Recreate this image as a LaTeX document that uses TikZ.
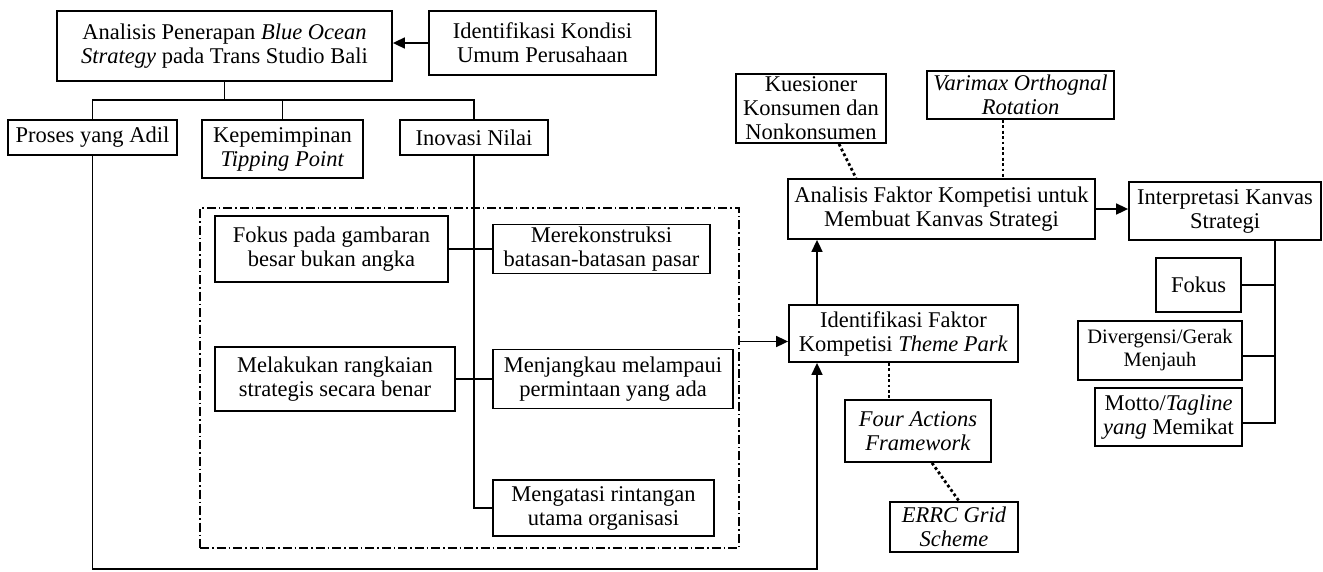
\documentclass[tikz,border=0pt]{standalone}
\usepackage{fontspec}
\setmainfont{Liberation Serif}
\usetikzlibrary{arrows.meta}
\newcommand\myfs{\fontsize{22.5}{24}\selectfont}
\newcommand\mysmfs{\fontsize{20.5}{23}\selectfont}
\begin{document}
\begin{tikzpicture}[x=1pt,y=-1pt,
 box/.style={draw, line width=1.8pt, align=center, inner sep=1pt, font=\myfs},
 conn/.style={line width=1.7pt},
 arr/.style={line width=1.7pt, -{Triangle[length=12pt,width=11pt]}},
 dots/.style={line width=2.8pt, dash pattern=on 2.8pt off 2.6pt},
 grp/.style={draw, line width=1.4pt, dash pattern=on 9pt off 3pt on 1.5pt off 3pt, inner sep=0pt}]
\useasboundingbox (0,0) rectangle (1323,571);

\node[box, minimum width=335pt, minimum height=70pt] (top) at (224.5,46) {Analisis Penerapan \textit{Blue Ocean}\\ \textit{Strategy} pada Trans Studio Bali};
\node[box, minimum width=227pt, minimum height=64pt] (idk) at (542.5,43) {Identifikasi Kondisi\\Umum Perusahaan};
\node[box, minimum width=169pt, minimum height=35pt] (proses) at (92.5,137.5) {Proses yang Adil};
\node[box, minimum width=161pt, minimum height=58pt] (kepem) at (282.5,149) {Kepemimpinan\\\textit{Tipping Point}};
\node[box, minimum width=148pt, minimum height=35pt] (inov) at (474,137.5) {Inovasi Nilai};

\node[grp, minimum width=539pt, minimum height=340pt] (group) at (469.5,378) {};
\node[box, minimum width=233pt, minimum height=66pt] (fokusb) at (331.5,249) {Fokus pada gambaran\\besar bukan angka};
\node[box, minimum width=217pt, minimum height=49pt] (merek) at (601.5,249) {Merekonstruksi\\batasan-batasan pasar};
\node[box, minimum width=240pt, minimum height=64pt] (melak) at (335,379) {Melakukan rangkaian\\strategis secara benar};
\node[box, minimum width=240pt, minimum height=59pt] (menj) at (613,379) {Menjangkau melampaui\\permintaan yang ada};
\node[box, minimum width=221pt, minimum height=56pt] (meng) at (603.5,508) {Mengatasi rintangan\\utama organisasi};

\node[box, minimum width=150pt, minimum height=69pt] (kues) at (811,108.5) {Kuesioner\\Konsumen dan\\Nonkonsumen};
\node[box, minimum width=187pt, minimum height=48pt] (vari) at (1020.5,95) {\textit{Varimax Orthognal}\\\textit{Rotation}};
\node[box, minimum width=307pt, minimum height=60pt] (af) at (941.5,209) {Analisis Faktor Kompetisi untuk\\Membuat Kanvas Strategi};
\node[box, minimum width=192pt, minimum height=58pt] (ip) at (1225,211) {Interpretasi Kanvas\\Strategi};
\node[box, minimum width=85pt, minimum height=54pt] (fokuss) at (1198.5,285) {Fokus};
\node[box, font=\mysmfs, minimum width=164pt, minimum height=59pt] (div) at (1160,350.5) {Divergensi/Gerak\\Menjauh};
\node[box, minimum width=147pt, minimum height=58pt] (motto) at (1168.5,417) {Motto/\textit{Tagline}\\\textit{yang} Memikat};
\node[box, minimum width=229pt, minimum height=57pt] (ifk) at (903.5,333.5) {Identifikasi Faktor\\Kompetisi \textit{Theme Park}};
\node[box, minimum width=146pt, minimum height=62pt] (fa) at (918,431) {\textit{Four Actions}\\\textit{Framework}};
\node[box, minimum width=128pt, minimum height=50pt] (errc) at (954,527) {\textit{ERRC Grid}\\\textit{Scheme}};

\coordinate (tj) at (225,100);
\coordinate (bl) at (93,569);
\coordinate (ifkb) at ([xshift=-86.5pt]ifk.south);
\coordinate (ifkt) at ([xshift=-86.5pt]ifk.north);
\coordinate (rt) at ([xshift=50pt]ip.south);

\draw[arr] (idk.west) -- (idk.west -| top.east);
\draw[conn] (top.south) -- (top.south |- tj);
\draw[conn] (proses.north) -- (proses.north |- tj) -| (inov.north);
\draw[conn] (kepem.north) -- (kepem.north |- tj);

\draw[conn] (inov.south) |- (meng.west);
\draw[conn] (fokusb.east) -- (merek.west);
\draw[conn] (melak.east) -- (menj.west);

\draw[arr] (proses.south) -- (proses.south |- bl) -- (ifkb |- bl) -- (ifkb);
\draw[arr] ([yshift=-8pt]ifk.west -| group.east) -- ([yshift=-8pt]ifk.west);
\draw[arr] (ifkt) -- (ifkt |- af.south);
\draw[arr] (af.east) -- (af.east -| ip.west);

\draw[dots] ([xshift=28pt]kues.south) -- ([xshift=-85.5pt]af.north);
\draw[dots] ([xshift=-17.5pt]vari.south) -- ([xshift=-17.5pt]vari.south |- af.north);
\draw[dots] ([xshift=-14.5pt]ifk.south) -- ([xshift=-14.5pt]ifk.south |- fa.north);
\draw[dots] ([xshift=14pt]fa.south) -- ([xshift=5pt]errc.north);

\draw[conn] (rt) |- ([yshift=-6pt]motto.east);
\draw[conn] (fokuss.east) -- (fokuss.east -| rt);
\draw[conn] ([yshift=-5.5pt]div.east) -- ([yshift=-5.5pt]div.east -| rt);
\end{tikzpicture}
\end{document}
